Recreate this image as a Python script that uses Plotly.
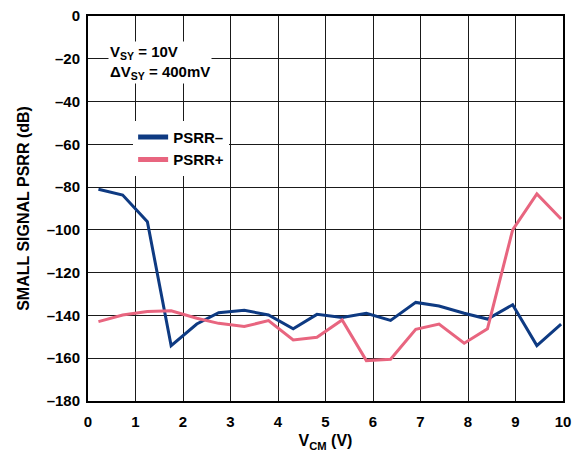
import plotly.graph_objects as go

vcm = [0.22, 0.73, 1.25, 1.75, 2.29, 2.75, 3.29, 3.80, 4.32, 4.82,
       5.35, 5.86, 6.37, 6.90, 7.39, 7.92, 8.41, 8.94, 9.45, 9.96]
psrr_minus = [-81, -83.7, -96.2, -154.1, -144, -138.7, -137.6, -139.8, -146.2, -139.5,
              -141, -139, -142.3, -133.9, -135.6, -139, -141.7, -135, -154.1, -144.1]
psrr_plus = [-142.9, -139.8, -138.2, -137.8, -141.3, -143.7, -145.2, -142.4, -151.5, -150.2,
             -142.1, -161.1, -160.5, -146.5, -144, -153, -146.2, -100, -83.2, -94.9]

xticks = list(range(0, 11))
yticks = list(range(0, -181, -20))
yticklabels = ["0"] + ["\u2013" + str(-v) for v in yticks[1:]]

FONT = "Liberation Sans, Arial, sans-serif"

fig = go.Figure()
fig.add_trace(go.Scatter(x=vcm, y=psrr_minus, mode="lines", name="PSRR\u2013",
                         line=dict(color="#0e3a82", width=3)))
fig.add_trace(go.Scatter(x=vcm, y=psrr_plus, mode="lines", name="PSRR+",
                         line=dict(color="#e8657f", width=3)))

# the page body adds an 8px offset, so the figure is 8px smaller and margins compensate
fig.update_layout(
    width=574, height=449,
    margin=dict(l=80, r=19, t=8, b=56, autoexpand=False),
    paper_bgcolor="white", plot_bgcolor="white",
    font=dict(family=FONT, size=15, color="black"),
    showlegend=True,
    legend=dict(x=0.095, y=0.728, xanchor="left", yanchor="top",
                bgcolor="white", borderwidth=0, itemwidth=30,
                font=dict(family=FONT, size=15, color="black", weight="bold"),
                tracegroupgap=0, itemsizing="constant"),
    annotations=[dict(
        x=0.042, y=0.935, xref="paper", yref="paper", xanchor="left", yanchor="top",
        align="left", showarrow=False, bgcolor="white",
        text="<b>V<sub>SY</sub> = 10V<br>\u0394V<sub>SY</sub> = 400mV</b>",
        font=dict(family=FONT, size=15, color="black"))],
)
fig.update_xaxes(range=[0, 10], tickvals=xticks, ticktext=[str(v) for v in xticks],
                 showgrid=True, gridcolor="#1a1a1a", gridwidth=1.3,
                 showline=True, linecolor="black", linewidth=2, mirror=True,
                 ticks="", zeroline=False, automargin=False,
                 ticklabeloverflow="allow", ticklabelstandoff=6,
                 tickfont=dict(family=FONT, size=15, weight="bold"),
                 title=dict(text="<b>V<sub>CM</sub> (V)</b>", font=dict(family=FONT, size=16), standoff=6))
fig.update_yaxes(range=[-180, 0], tickvals=yticks, ticktext=yticklabels,
                 showgrid=True, gridcolor="#1a1a1a", gridwidth=1.3,
                 showline=True, linecolor="black", linewidth=2, mirror=True,
                 ticks="", zeroline=False, automargin=False,
                 ticklabeloverflow="allow", ticklabelstandoff=3,
                 tickfont=dict(family=FONT, size=15, weight="bold"),
                 title=dict(text="<b>SMALL SIGNAL PSRR (dB)</b>", font=dict(family=FONT, size=16), standoff=13))

fig.write_html("out.html")
